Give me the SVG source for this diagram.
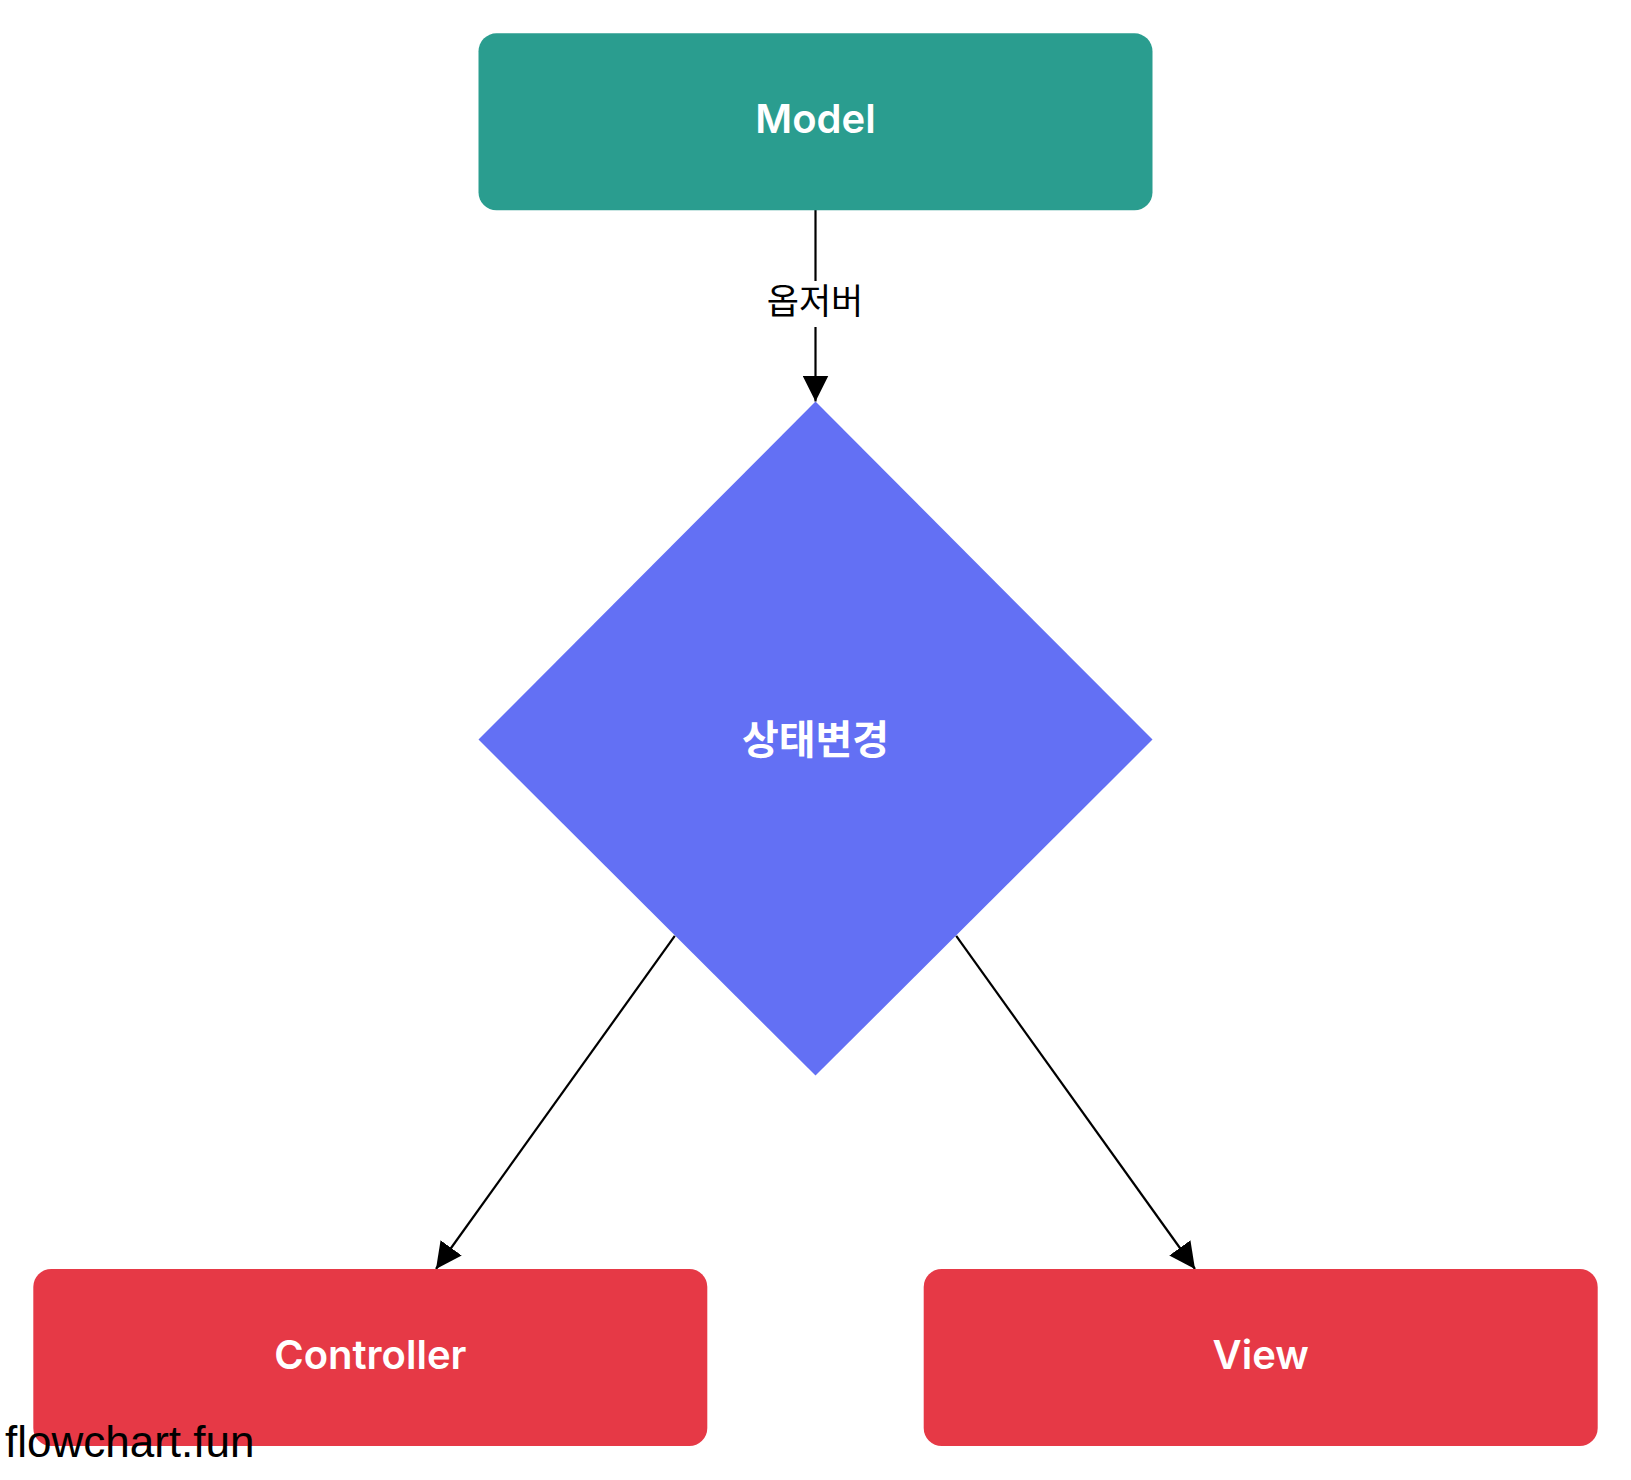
<svg xmlns="http://www.w3.org/2000/svg" width="1631" height="1480" viewBox="0 0 1631 1480">
  <style>
    .node-label { font-family: Inter, "Open Sans", "Noto Sans CJK KR", sans-serif; font-weight: 600; fill: #ffffff; text-anchor: middle; }
    .edge { stroke: #000000; stroke-width: 2.2; fill: none; marker-end: url(#arrow); }
    .edge-label { font-family: "Noto Sans CJK KR", sans-serif; font-size: 35px; fill: #000000; text-anchor: middle; }
  </style>
  <defs>
    <marker id="arrow" markerUnits="userSpaceOnUse" markerWidth="26" markerHeight="26" viewBox="0 0 24 24" refX="24" refY="12" orient="auto">
      <path d="M0,0 L24,12 L0,24 Z" fill="#000000"/>
    </marker>
  </defs>
  <rect width="1631" height="1480" fill="#ffffff"/>

  <g id="connectors">
    <g id="edge-model-state">
      <line class="edge" x1="815.5" y1="210" x2="815.5" y2="401.5"/>
      <rect x="762" y="281" width="107" height="46" fill="#ffffff"/>
      <text class="edge-label" x="815" y="314">옵저버</text>
    </g>
    <line id="edge-state-controller" class="edge" x1="674.8" y1="935.9" x2="436" y2="1269"/>
    <line id="edge-state-view" class="edge" x1="956.2" y1="935.9" x2="1195" y2="1269"/>
  </g>

  <g id="node-model">
    <rect x="478.5" y="33.3" width="674" height="177" rx="18" ry="18" fill="#2a9d8f"/>
    <text class="node-label" x="815.5" y="133" font-size="40">Model</text>
  </g>

  <g id="node-state">
    <polygon points="815.5,401.5 1152.5,739.6 815.5,1075.6 478.5,739.6" fill="#6370f4"/>
    <text class="node-label" x="815.5" y="754" font-size="40">상태변경</text>
  </g>

  <g id="node-controller">
    <rect x="33.3" y="1269" width="674" height="177" rx="18" ry="18" fill="#e63946"/>
    <text class="node-label" x="370.3" y="1369" font-size="40">Controller</text>
  </g>

  <g id="node-view">
    <rect x="923.7" y="1269" width="674" height="177" rx="18" ry="18" fill="#e63946"/>
    <text class="node-label" x="1260.7" y="1369" font-size="40">View</text>
  </g>

  <text x="5" y="1457" font-family="'Liberation Sans', Arial, sans-serif" font-size="44" fill="#000000">flowchart.fun</text>
</svg>
